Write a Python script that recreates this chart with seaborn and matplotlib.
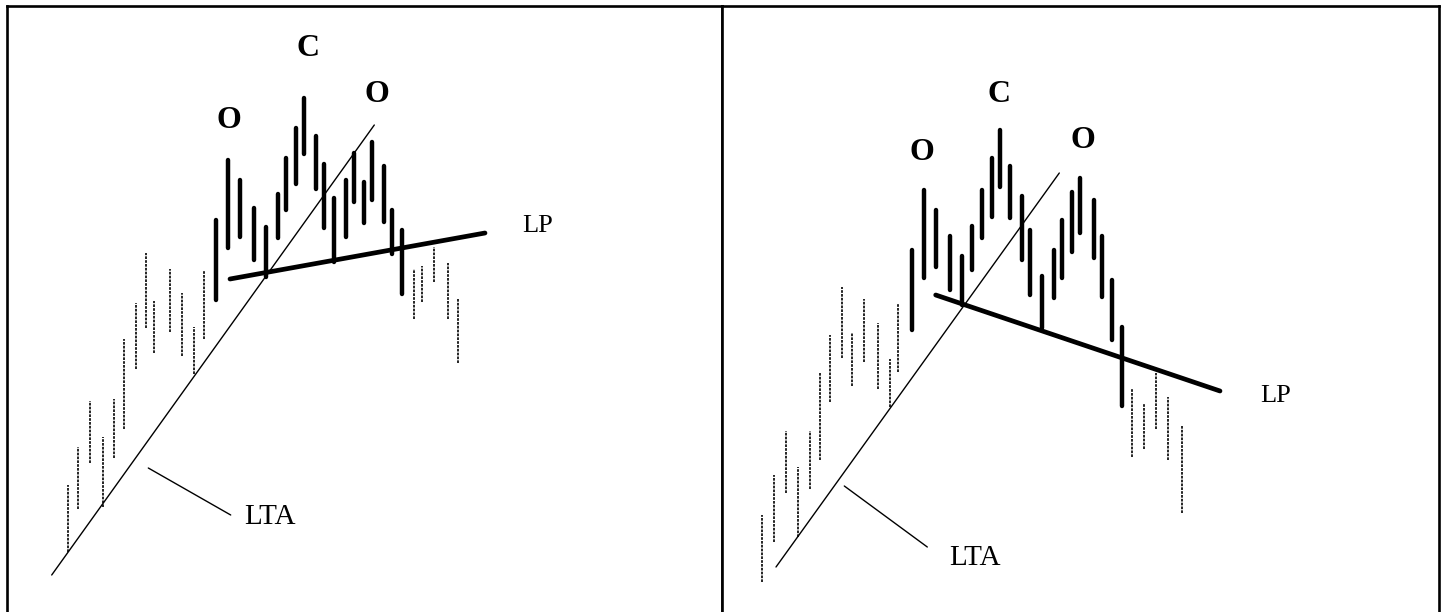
import matplotlib
matplotlib.use('Agg')
import matplotlib.pyplot as plt
import seaborn as sns
import pandas as pd

# time = horizontal offset inside the panel, price = height above panel bottom

# ---- left panel (rising neckline) ----
left_pre_t = [60.7, 70.7, 83, 96.3, 107, 116.7, 129, 139, 147, 162.7, 175, 187, 196.7]
left_pre_high = [127, 165, 211, 175, 213, 273, 309, 359, 311, 343, 319, 285, 341]
left_pre_low = [60, 103, 149, 105, 154, 183, 243, 284, 259, 280, 256, 238, 273]

left_top_t = [208.7, 220.7, 233, 247, 259, 271, 279, 289, 297, 309, 317, 327, 339,
              347, 357, 365, 377, 385, 395]
left_top_high = [392, 452, 432, 404, 385, 418, 454, 484, 514, 476, 448, 414, 432,
                 459, 430, 470, 446, 402, 382]
left_top_low = [312, 364, 375, 352, 335, 374, 402, 428, 458, 423, 384, 350, 375,
                410, 389, 412, 390, 358, 318]

left_post_t = [407, 415, 427, 441, 451]
left_post_high = [343, 346, 365, 349, 314]
left_post_low = [293, 310, 330, 293, 249]

left_lta = ([44.7, 367.3], [37, 487])
left_lp = ([223, 478], [333, 379])
left_pointer = ([141.3, 223.7], [144, 97])
left_labels = {'O1': (222, 492), 'C': (301, 564), 'O2': (369.7, 518),
               'LTA': (263, 95), 'LP': (531, 386)}

# ---- right panel (falling neckline) ----
right_pre_t = [40.3, 52.3, 64, 76.3, 88, 98, 108, 120, 130.3, 142.3, 156.3, 168.3, 176.3]
right_pre_high = [97, 137, 181, 145, 181, 239, 277, 325, 279, 313, 289, 253, 309]
right_pre_low = [30, 70, 119, 75, 123, 152, 210, 254, 226, 250, 223, 205, 240]

right_top_t = [190.3, 202, 214.3, 228.3, 240.3, 250.3, 260.3, 270.3, 278.3, 288.3, 300.3,
               308.3, 320.3, 332.3, 340.3, 350.3, 358.3, 372.3, 380.3, 390.3, 400.3]
right_top_high = [362, 422, 402, 376, 356, 386, 422, 454, 482, 446, 416, 382, 336,
                  362, 392, 420, 434, 412, 376, 332, 285]
right_top_low = [282, 334, 345, 322, 307, 342, 374, 395, 425, 394, 352, 317, 284,
                 314, 334, 360, 379, 354, 315, 272, 206]

right_post_t = [410.3, 422.3, 434.3, 446.3, 460.3]
right_post_high = [224, 209, 239, 215, 187]
right_post_low = [155, 163, 183, 152, 99]

right_lta = ([54, 337.3], [45, 439])
right_lp = ([213.7, 498], [317, 221])
right_pointer = ([122.3, 205.3], [126, 65])
right_labels = {'O1': (199.7, 459), 'C': (277, 517), 'O2': (361.3, 472),
                'LTA': (253, 54), 'LP': (554, 216)}


def bars_frame(t, high, low):
    rows = []
    for i, (x, h, l) in enumerate(zip(t, high, low)):
        rows.append({'bar': i, 't': x, 'price': l})
        rows.append({'bar': i, 't': x, 'price': h})
    return pd.DataFrame(rows)


def draw_panel(ax, pre, top, post, lta, lp, pointer, labels, width):
    dotted = pd.concat([bars_frame(*pre), bars_frame(*post)], ignore_index=True)
    dotted['bar'] = dotted.index // 2
    sns.lineplot(data=dotted, x='t', y='price', units='bar', estimator=None,
                 sort=False, color='black', lw=1.2, ax=ax,
                 linestyle=(0, (1.6, 0.7)))
    thick = bars_frame(*top)
    sns.lineplot(data=thick, x='t', y='price', units='bar', estimator=None,
                 sort=False, color='black', lw=3.2, ax=ax,
                 solid_capstyle='round')

    ax.plot(lta[0], lta[1], color='black', lw=1.0)
    ax.plot(pointer[0], pointer[1], color='black', lw=1.0)
    ax.plot(lp[0], lp[1], color='black', lw=3.4, solid_capstyle='round')

    for key in ['O1', 'C', 'O2']:
        x, y = labels[key]
        ax.text(x, y, key[0], fontsize=23, fontweight='bold', color='black',
                ha='center', va='center', family='Liberation Serif')
    ax.text(*labels['LTA'], 'LTA', fontsize=21, color='black',
            ha='center', va='center', family='Liberation Serif')
    ax.text(*labels['LP'], 'LP', fontsize=19, color='black',
            ha='center', va='center', family='Liberation Serif')

    ax.set_xlim(0, width)
    ax.set_ylim(0, 606)
    ax.set_xlabel('')
    ax.set_ylabel('')
    ax.set_xticks([])
    ax.set_yticks([])
    for side in ['top', 'left', 'right']:
        ax.spines[side].set_visible(True)
        ax.spines[side].set_linewidth(1.9)
        ax.spines[side].set_color('black')
    ax.spines['bottom'].set_visible(False)


sns.set_style('white')
fig = plt.figure(figsize=(14.48, 6.12), dpi=100)
W, H = 1448, 612
ax1 = fig.add_axes([7 / W, 0, 715 / W, 606 / H])
ax2 = fig.add_axes([722 / W, 0, 717 / W, 606 / H])

draw_panel(ax1, (left_pre_t, left_pre_high, left_pre_low),
           (left_top_t, left_top_high, left_top_low),
           (left_post_t, left_post_high, left_post_low),
           left_lta, left_lp, left_pointer, left_labels, 715)
draw_panel(ax2, (right_pre_t, right_pre_high, right_pre_low),
           (right_top_t, right_top_high, right_top_low),
           (right_post_t, right_post_high, right_post_low),
           right_lta, right_lp, right_pointer, right_labels, 717)

fig.savefig('out.png', dpi=100, facecolor='white')
